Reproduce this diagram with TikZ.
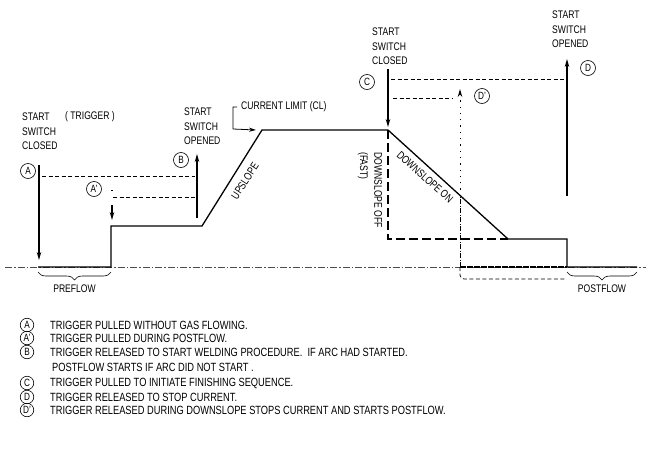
\documentclass[tikz,border=0pt]{standalone}
\usepackage{fontspec}
\setmainfont{Liberation Sans}[FakeStretch=0.78]
\usetikzlibrary{arrows.meta,decorations.pathreplacing}
\begin{document}
\begin{tikzpicture}[x=1pt,y=-1pt,
  lbl/.style={font=\fontsize{11}{14.3}\selectfont, align=left, inner sep=0},
  circ/.style={circle, draw, line width=0.6pt, minimum size=15pt, inner sep=0, font=\fontsize{10.5}{10.5}\selectfont},
  curve/.style={line width=1.3pt},
  arr/.style={line width=1.1pt, -{Stealth[length=8pt,width=4.5pt]}},
  thindash/.style={line width=0.7pt, dash pattern=on 4pt off 2.5pt},
  baseln/.style={line width=0.6pt, black!70, dash pattern=on 7pt off 2pt on 1.5pt off 2pt},
  bracestyle/.style={line width=0.6pt, decorate, decoration={brace, mirror, amplitude=8pt}},
  leg/.style={font=\fontsize{11.9}{12}\selectfont, anchor=west, inner sep=0},
  legc/.style={circle, draw, line width=0.6pt, minimum size=13.5pt, inner sep=0, font=\fontsize{10.5}{10.5}\selectfont}
]
\useasboundingbox (0,0) rectangle (651,455);

% key points of the welding curve
\coordinate (p0) at (38,267);
\coordinate (p1) at (111,267);
\coordinate (p2) at (111,226);
\coordinate (p3) at (202,226);
\coordinate (p4) at (262,130);
\coordinate (p5) at (388,130);
\coordinate (p6) at (508,239);
\coordinate (p7) at (567,239);
\coordinate (p8) at (567,267);
\coordinate (p9) at (637,267);
\coordinate (bl) at (5,267);
\coordinate (br) at (646,267);

% baseline
\draw[baseln] (bl) -- (br);

% downslope off (fast)
\coordinate (q1) at (388,239);
\draw[line width=1.2pt, dash pattern=on 9pt off 4pt] (p5) -- (q1) -- (p6);

% D' vertical and postflow
\coordinate (d0) at (460,267);
\coordinate (d1) at (460,196);
\coordinate (d2) at (460,89);
\draw[line width=1pt, dash pattern=on 5pt off 1.5pt on 1pt off 1.5pt] (d0) -- (d1);
\draw[line width=1pt, dash pattern=on 1.3pt off 5pt, -{Stealth[length=8pt,width=4.5pt]}] (d1) -- (d2);
\draw[line width=1.3pt, dash pattern=on 6pt off 1pt] (d0) -- (p8);
\coordinate (e0) at (565,279);
\draw[thindash, rounded corners=4pt] (d0) |- (e0);

% main curve
\draw[curve] (p0) -- (p1) -- (p2) -- (p3) -- (p4) -- (p5) -- (p6) -- (p7) -- (p8) -- (p9);

% braces
\draw[bracestyle] (38,272) -- (111,272) node[midway, below=13pt, lbl] (pre) {PREFLOW};
\draw[bracestyle] (567,272) -- (637,272) node[midway, below=13pt, lbl] (post) {POSTFLOW};

% A
\node[lbl, anchor=north west] (tA) at (22,113) {START\\SWITCH\\CLOSED};
\node[lbl, anchor=west] (trig) at (65,117) {( TRIGGER )};
\node[circ] (cA) at (28,171) {A};
\coordinate (a0) at (39,165);
\coordinate (a1) at (39,260);
\draw[arr] (a0) -- (a1);
\coordinate (a2) at (42,176);
\coordinate (a3) at (195,176);
\draw[thindash] (a2) -- (a3);

% A'
\node[circ] (cAp) at (94,189) {A'};
\coordinate (ap0) at (112,190);
\coordinate (ap1) at (112,220);
\draw[line width=1.1pt, dash pattern=on 1.2pt off 14pt on 30pt, -{Stealth[length=8pt,width=4.5pt]}] (ap0) -- (ap1);
\coordinate (ap2) at (113,197);
\coordinate (ap3) at (195,197);
\draw[thindash] (ap2) -- (ap3);

% B
\node[lbl, anchor=north west] (tB) at (184,108) {START\\SWITCH\\OPENED};
\node[circ] (cB) at (181,160) {B};
\coordinate (b0) at (197,218);
\coordinate (b1) at (197,154);
\draw[arr] (b0) -- (b1);

% current limit
\node[lbl, anchor=west] (tCL) at (241,107) {CURRENT LIMIT (CL)};
\coordinate (cl0) at (237,107);
\coordinate (cl1) at (256,130);
\draw[line width=0.8pt, -{Stealth[length=7pt,width=4pt]}] (cl0) -- (233,107) -- (233,129) -- (cl1);

% upslope / downslope labels
\node[lbl, rotate=57] (tUp) at (245,181) {UPSLOPE};
\node[lbl, rotate=-42] (tDn) at (425,177) {DOWNSLOPE ON};
\node[lbl, rotate=-90] (tOff) at (370,190) {DOWNSLOPE OFF\\(FAST)};

% C
\node[lbl, anchor=north west] (tC) at (372,28) {START\\SWITCH\\CLOSED};
\node[circ] (cC) at (367,82) {C};
\coordinate (c0) at (388,69);
\coordinate (c1) at (388,127);
\draw[arr] (c0) -- (c1);
\coordinate (c2) at (391,79);
\coordinate (c3) at (566,79);
\draw[thindash] (c2) -- (c3);

% D'
\node[circ] (cDp) at (482,96) {D'};
\coordinate (dp0) at (393,98);
\coordinate (dp1) at (453,98);
\draw[thindash] (dp0) -- (dp1);

% D
\node[lbl, anchor=north west] (tD) at (552,11) {START\\SWITCH\\OPENED};
\node[circ] (cD) at (588,68) {D};
\coordinate (dd0) at (567,196);
\coordinate (dd1) at (567,59);
\draw[arr] (dd0) -- (dd1);

% legend
\node[legc] (lA)  at (27,325) {A};
\node[legc] (lAp) at (27,338) {A'};
\node[legc] (lB)  at (27,352) {B};
\node[legc] (lC)  at (27,383) {C};
\node[legc] (lD)  at (27,397) {D};
\node[legc] (lDp) at (27,410) {D'};
\node[leg] (xA)  at (50,325) {TRIGGER PULLED WITHOUT GAS FLOWING.};
\node[leg] (xAp) at (50,338) {TRIGGER PULLED DURING POSTFLOW.};
\node[leg] (xB)  at (50,352) {TRIGGER RELEASED TO START WELDING PROCEDURE.\ \ IF ARC HAD STARTED.};
\node[leg] (xB2) at (52,367) {POSTFLOW STARTS IF ARC DID NOT START .};
\node[leg] (xC)  at (50,383) {TRIGGER PULLED TO INITIATE FINISHING SEQUENCE.};
\node[leg] (xD)  at (50,397) {TRIGGER RELEASED TO STOP CURRENT.};
\node[leg] (xDp) at (50,410) {TRIGGER RELEASED DURING DOWNSLOPE STOPS CURRENT AND STARTS POSTFLOW.};
\end{tikzpicture}
\end{document}
